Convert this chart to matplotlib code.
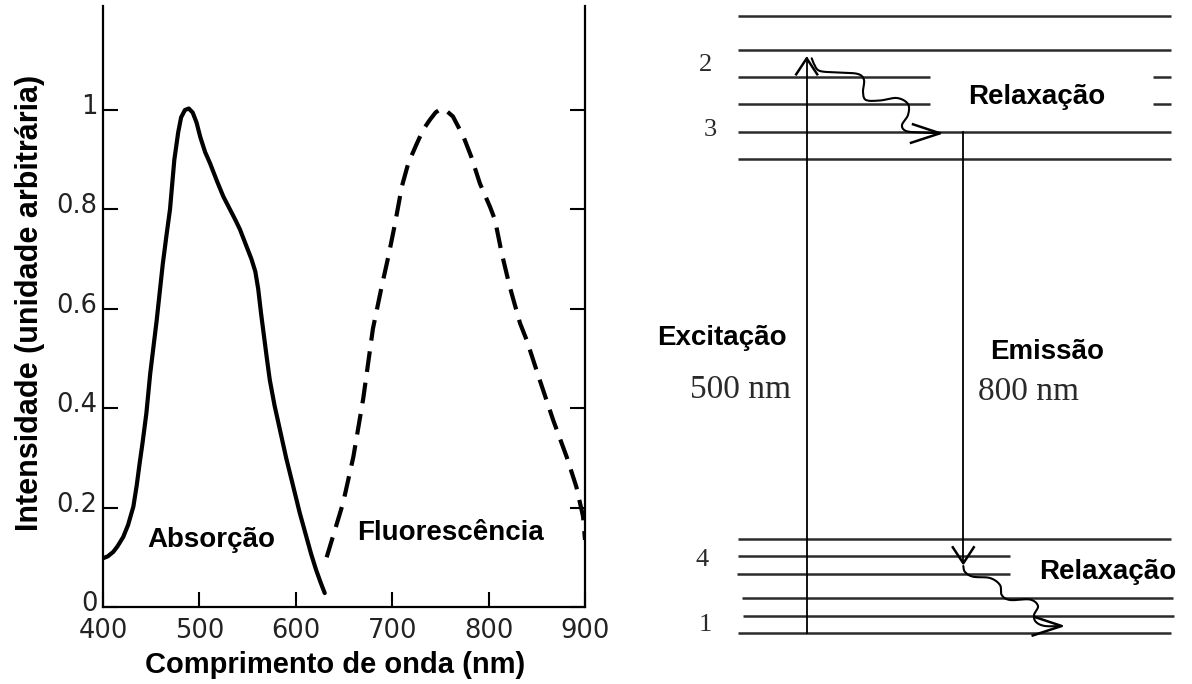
import numpy as np
import matplotlib
matplotlib.use("Agg")
import matplotlib.pyplot as plt
import matplotlib.transforms as mtransforms

# ---------------- data: spectra ----------------
abs_nm = [400, 405, 410.7, 415, 421, 426, 431.5, 435, 438, 441, 445, 449, 455.7,
          462, 466, 469.5, 474, 478, 481, 485, 489, 493, 497, 501, 506, 511,
          518, 524.8, 531.7, 537, 542, 549, 554, 558, 561, 564, 567, 570, 573,
          578, 583.6, 590, 597.4, 604, 611, 616, 621, 626, 630]
abs_int = [0.098, 0.102, 0.111, 0.122, 0.141, 0.165, 0.202, 0.245, 0.289, 0.33,
           0.39, 0.47, 0.577, 0.69, 0.75, 0.80, 0.90, 0.955, 0.985, 1.0, 1.003,
           0.995, 0.975, 0.945, 0.915, 0.893, 0.858, 0.826, 0.80, 0.78, 0.76,
           0.725, 0.70, 0.675, 0.64, 0.59, 0.545, 0.50, 0.457, 0.405, 0.356,
           0.30, 0.242, 0.19, 0.141, 0.106, 0.075, 0.048, 0.028]
flu_nm = [632, 649, 659.7, 670, 680, 689, 696, 703, 710, 716.7, 725, 732, 739,
          745, 751, 757, 763, 774, 782, 791, 801.5, 806.6, 813.6, 822, 832.6,
          839.5, 853, 867, 881, 891, 898, 900]
flu_int = [0.10, 0.209, 0.302, 0.42, 0.56, 0.644, 0.705, 0.772, 0.846, 0.893,
           0.93, 0.96, 0.98, 0.995, 1.003, 0.997, 0.987, 0.946, 0.906, 0.852,
           0.805, 0.779, 0.712, 0.644, 0.571, 0.537, 0.457, 0.376, 0.302, 0.242,
           0.182, 0.135]
x_ticks = [400, 500, 600, 700, 800, 900]
x_tick_labels = ["400", "500", "600", "700", "800", "900"]
y_ticks = [0, 0.2, 0.4, 0.6, 0.8, 1.0]
y_tick_labels = ["0", "0.2", "0.4", "0.6", "0.8", "1"]

# ---------------- data: energy diagram (diagram units) ----------------
level_y = [15.7, 50, 76.7, 104.3, 132.3, 159.3, 539, 556, 574, 597.7, 616, 632.7]
level_x0 = [738, 738, 738, 738, 738, 738, 738, 738, 737, 742, 743, 738]
level_x1 = [1171, 1171, 930, 930, 1171, 1171, 1171, 1010, 1010, 1173, 1174, 1171]
stub_y = [76.7, 104.3]
stub_x0, stub_x1 = 1153, 1171
level_names = ["2", "3", "4", "1"]
level_name_x = [705, 710, 702, 705]
level_name_y = [65, 130, 560, 625]

exc_x, exc_y0, exc_y1 = 806.7, 632.7, 58.3
emi_x, emi_y0, emi_y1 = 963.3, 132.3, 563.3

wave_up_x = [811.7, 814, 820, 840, 858, 864, 863, 866, 880, 897, 908, 908, 902, 906, 920, 940]
wave_up_y = [58.3, 64, 71, 72.5, 74, 80, 92, 100, 100.5, 98, 104, 115, 125, 131, 132.5, 133.3]
wave_lo_x = [963.3, 965, 973, 990, 1000, 1001.7, 1010, 1030, 1038, 1034, 1036, 1045, 1061.7]
wave_lo_y = [566, 572, 576.7, 578, 585, 595, 600, 599.5, 606, 615, 622, 626, 626]

labels_txt = ["Relaxação", "Relaxação", "Excitação", "Emissão"]
labels_x = [1037, 1108, 721.5, 1047.5]
labels_y = [97, 572, 338, 352]
nm_txt = ["500 nm", "800 nm"]
nm_x = [740, 1029]
nm_y = [390, 392]

# ---------------- figure ----------------
W, H = 1192, 684
fig = plt.figure(figsize=(W / 100, H / 100), dpi=100)
fig.patch.set_facecolor("white")

ax = fig.add_axes([103 / W, 1 - 607 / H, 482 / W, 601 / H])
ax.plot(abs_nm, abs_int, color="black", lw=3.0, solid_capstyle="round",
        solid_joinstyle="round")
ax.plot(flu_nm, flu_int, color="black", lw=3.0, linestyle=(0, (5, 2.6)),
        dash_capstyle="butt", dash_joinstyle="round")
ax.set_xlim(400, 900)
ax.set_ylim(0, 601 / 497)
ax.spines["top"].set_visible(False)
for s in ["left", "right", "bottom"]:
    ax.spines[s].set_linewidth(1.6)
ax.set_xticks(x_ticks)
ax.set_xticklabels(x_tick_labels)
ax.set_yticks(y_ticks)
ax.set_yticklabels(y_tick_labels)
ax.tick_params(axis="both", direction="in", length=11, width=1.5,
               labelsize=18.5, colors="black")
ax.tick_params(axis="x", pad=8)
ax.tick_params(axis="y", pad=4, right=True)
up = mtransforms.ScaledTranslation(0, 6 / 100, fig.dpi_scale_trans)
for t in ax.get_yticklabels():
    t.set_transform(t.get_transform() + up)
for t in ax.get_xticklabels() + ax.get_yticklabels():
    t.set_fontfamily("DejaVu Sans")
    t.set_color("#222222")

bold = dict(family="Liberation Sans", weight="bold", color="black")
ax.text(512.8, 0.135, "Absorção", ha="center", va="center", fontsize=20, **bold)
ax.text(760, 0.149, "Fluorescência", ha="center", va="center", fontsize=20, **bold)

fig.text(30 / W, 1 - 303 / H, "Intensidade (unidade arbitrária)", rotation=90,
         ha="center", va="center", fontsize=22, **bold)
fig.text(335 / W, 1 - 665 / H, "Comprimento de onda (nm)", ha="center",
         va="center", fontsize=21, **bold)

# ---------------- energy diagram ----------------
ax2 = fig.add_axes([620 / W, 0, 572 / W, 1])
ax2.set_xlim(620, 1192)
ax2.set_ylim(684, 0)
ax2.axis("off")

lvl_color = "#2b2b2b"
ax2.hlines(level_y, level_x0, level_x1, color=lvl_color, lw=1.8)
ax2.hlines(stub_y, stub_x0, stub_x1, color=lvl_color, lw=1.8)

serif = dict(family="Liberation Serif", color="#2a2a2a")
for name, x, y in zip(level_names, level_name_x, level_name_y):
    ax2.text(x, y, name, ha="center", va="center", fontsize=19, **serif)


def smooth(xs, ys, n=12):
    p = np.column_stack([xs, ys]).astype(float)
    p = np.vstack([p[0], p, p[-1]])
    out = []
    for i in range(1, len(p) - 2):
        p0, p1, p2, p3 = p[i - 1], p[i], p[i + 1], p[i + 2]
        for t in np.linspace(0, 1, n, endpoint=False):
            t2, t3 = t * t, t * t * t
            out.append(0.5 * ((2 * p1) + (-p0 + p2) * t +
                              (2 * p0 - 5 * p1 + 4 * p2 - p3) * t2 +
                              (-p0 + 3 * p1 - 3 * p2 + p3) * t3))
    out.append(p[-2])
    out = np.array(out)
    return out[:, 0], out[:, 1]


arrow_lw = 1.3
head_len, head_half = 16, 10.5

# excitation (up)
ax2.plot([exc_x, exc_x], [exc_y0, exc_y1], color="black", lw=arrow_lw)
ax2.plot([exc_x - head_half, exc_x, exc_x + head_half],
         [exc_y1 + head_len, exc_y1, exc_y1 + head_len], color="black", lw=1.8)
# emission (down)
ax2.plot([emi_x, emi_x], [emi_y0, emi_y1], color="black", lw=arrow_lw)
ax2.plot([emi_x - head_half, emi_x, emi_x + head_half],
         [emi_y1 - head_len, emi_y1, emi_y1 - head_len], color="black", lw=1.8)

# relaxation waves
for wx, wy in [(wave_up_x, wave_up_y), (wave_lo_x, wave_lo_y)]:
    sx, sy = smooth(wx, wy)
    ax2.plot(sx, sy, color="black", lw=1.5, solid_capstyle="round")
    tx, ty = wx[-1], wy[-1]
    ax2.plot([tx - 27, tx, tx - 29], [ty - 9, ty, ty + 9.5], color="black", lw=1.8)

for t, x, y in zip(labels_txt, labels_x, labels_y):
    ax2.text(x, y, t, ha="center", va="center", fontsize=20, **bold)
for t, x, y in zip(nm_txt, nm_x, nm_y):
    ax2.text(x, y, t, ha="center", va="center", fontsize=24, **serif)

fig.savefig("out.png", dpi=100)
